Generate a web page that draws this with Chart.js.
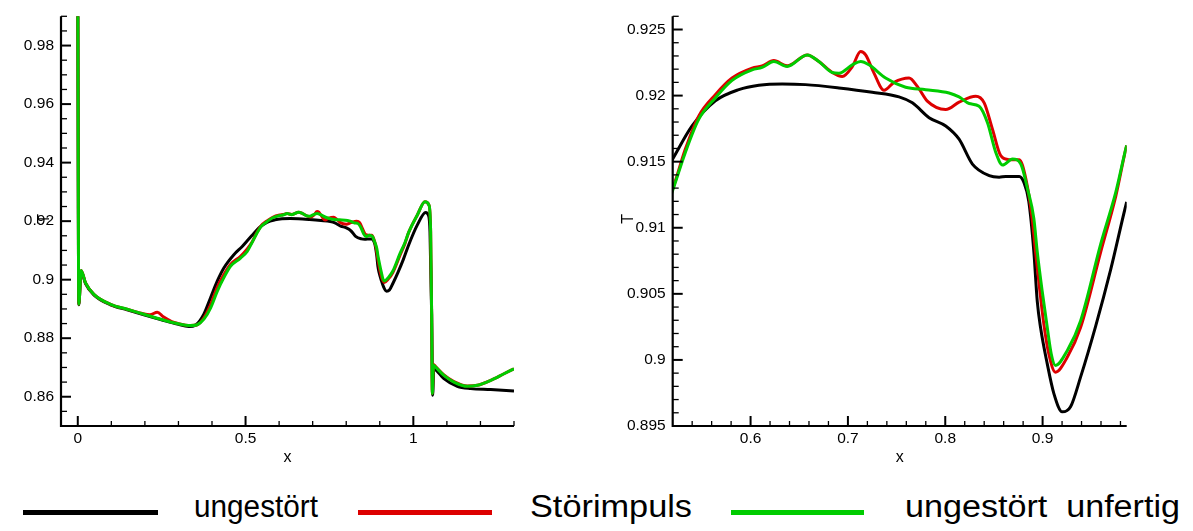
<!DOCTYPE html>
<html>
<head>
<meta charset="utf-8">
<script src="https://cdn.jsdelivr.net/npm/chart.js@4/dist/chart.umd.min.js"></script>
<style>
  html, body { margin: 0; padding: 0; background: #fff; }
  #wrap { position: relative; width: 1193px; height: 531px; overflow: hidden; font-family: "Liberation Sans", Arial, sans-serif; }
  canvas { position: absolute; top: 0; }
  #c1 { left: 0; }
  #c2 { left: 590px; }
  .lg-line { position: absolute; height: 5px; top: 510px; }
  .lg-text { position: absolute; top: 489px; font-size: 31px; line-height: 36px; color: #000; white-space: pre; transform-origin: 0 50%; }
</style>
</head>
<body>
<div id="wrap">
  <canvas id="c1" width="590" height="480"></canvas>
  <canvas id="c2" width="603" height="480"></canvas>
  <div class="lg-line" style="left:23px;width:135px;background:#000"></div>
  <div class="lg-text" style="left:194px" data-w="124">ungestört</div>
  <div class="lg-line" style="left:358px;width:134px;background:#dd0000"></div>
  <div class="lg-text" style="left:530px" data-w="162">Störimpuls</div>
  <div class="lg-line" style="left:731px;width:133px;background:#00cc00"></div>
  <div class="lg-text" style="left:905px" data-w="275">ungestört  unfertig</div>
</div>
<script>
// Temperature T along x for the three runs
const xUngestoert = [0, 0.003, 0.010, 0.023, 0.048, 0.0975, 0.147, 0.197, 0.2466, 0.2963, 0.331, 0.351, 0.3757, 0.3957, 0.4156, 0.4353, 0.4651, 0.490, 0.505,
  0.52, 0.5399, 0.5638, 0.5879, 0.6085, 0.6325, 0.6564, 0.6908, 0.725, 0.7525, 0.7662, 0.7834, 0.8005, 0.8142, 0.8279, 0.8451, 0.8554, 0.8622, 0.876, 0.8807, 0.8858, 0.891, 0.8945, 0.8979, 0.9048, 0.9116, 0.9202, 0.9287, 0.939, 0.9546, 0.97, 0.9864,
  1.012, 1.0367, 1.0447, 1.0496, 1.0546, 1.0576, 1.0610, 1.0665, 1.0912, 1.131, 1.171, 1.2305, 1.3];
const tUngestoert = [1.0, 0.8914, 0.9029, 0.8987, 0.8948, 0.8914, 0.8897, 0.8880, 0.8864, 0.8848, 0.8840, 0.88447, 0.8882, 0.89383, 0.89949, 0.9040, 0.90854, 0.91136, 0.9133,
  0.9152, 0.9177, 0.9196, 0.92045, 0.92078, 0.92088, 0.92083, 0.92058, 0.92025, 0.9199, 0.91945, 0.91833, 0.9177, 0.9167, 0.91482, 0.91395, 0.91383, 0.91388, 0.91388, 0.91345, 0.9120, 0.9082, 0.90445, 0.90245, 0.8997, 0.89745, 0.89607, 0.89645, 0.8987, 0.90258, 0.90685, 0.91195,
  0.91871, 0.92298, 0.9221, 0.91644, 0.8882, 0.86051, 0.8697, 0.8693, 0.86617, 0.86356, 0.86277, 0.86244, 0.86197];

const xStoerimpuls = [0, 0.003, 0.010, 0.023, 0.048, 0.0975, 0.147, 0.19, 0.215, 0.237, 0.255, 0.28, 0.2963, 0.336, 0.356, 0.376, 0.396, 0.416, 0.435, 0.455, 0.485, 0.505,
  0.52, 0.533, 0.5467, 0.5638, 0.581, 0.6016, 0.6119, 0.6239, 0.6376, 0.6582, 0.6702, 0.6839, 0.6942, 0.7045, 0.7131, 0.7182, 0.7268, 0.7371, 0.7474, 0.7628, 0.7713, 0.7816, 0.8005, 0.8142, 0.8313, 0.84, 0.8485, 0.857, 0.8657, 0.876, 0.8828, 0.8893, 0.8927, 0.8972, 0.9013, 0.9064, 0.9133, 0.9253, 0.939, 0.9598, 0.9752, 0.9864,
  1.012, 1.0346, 1.0465, 1.0516, 1.0546, 1.0566, 1.060, 1.0665, 1.0912, 1.121, 1.161, 1.1908, 1.2305, 1.2701, 1.3];
const tStoerimpuls = [1.0, 0.8916, 0.9031, 0.8989, 0.8950, 0.8916, 0.8899, 0.8885, 0.8880, 0.8889, 0.8873, 0.8857, 0.8851, 0.8843, 0.8846, 0.8870, 0.8915, 0.8975, 0.9017, 0.9052, 0.9080, 0.9105,
  0.91295, 0.91595, 0.91845, 0.92007, 0.92133, 0.92208, 0.92225, 0.92265, 0.92225, 0.92308, 0.92258, 0.92175, 0.92145, 0.9222, 0.92333, 0.92308, 0.9217, 0.9204, 0.921, 0.92133, 0.9207, 0.91958, 0.91895, 0.9195, 0.91995, 0.91945, 0.91745, 0.91545, 0.91515, 0.91515, 0.9137, 0.9107, 0.9082, 0.9052, 0.9027, 0.90045, 0.89907, 0.9002, 0.90245, 0.9082, 0.9124, 0.91623,
  0.9221, 0.92661, 0.9255, 0.91644, 0.8882, 0.8611, 0.8710, 0.8703, 0.86745, 0.86515, 0.86365, 0.8639, 0.86559, 0.86786, 0.86956];

const xUnfertig = [0, 0.003, 0.010, 0.023, 0.048, 0.0975, 0.147, 0.197, 0.2466, 0.2963, 0.336, 0.356, 0.376, 0.396, 0.416, 0.435, 0.455, 0.485, 0.505,
  0.52, 0.533, 0.5467, 0.5638, 0.581, 0.6016, 0.6119, 0.6239, 0.6376, 0.6582, 0.6702, 0.6839, 0.6908, 0.7045, 0.7131, 0.7216, 0.7387, 0.7593, 0.7799, 0.8039, 0.8142, 0.8245, 0.8348, 0.8434, 0.8519, 0.8588, 0.8691, 0.8776, 0.8845, 0.891, 0.8945, 0.8996, 0.9048, 0.9089, 0.9133, 0.9253, 0.939, 0.9598, 0.9752, 0.9864,
  1.012, 1.0346, 1.0465, 1.0516, 1.0546, 1.0566, 1.060, 1.0665, 1.0912, 1.121, 1.161, 1.1908, 1.2305, 1.2701, 1.3];
const tUnfertig = [1.0, 0.8916, 0.9031, 0.8989, 0.8950, 0.8916, 0.8899, 0.8882, 0.8865, 0.8850, 0.8843, 0.8846, 0.8865, 0.8904, 0.8961, 0.9006, 0.9046, 0.9074, 0.9097,
  0.91283, 0.9157, 0.9182, 0.91982, 0.92115, 0.92195, 0.92213, 0.92258, 0.9222, 0.92308, 0.92258, 0.92175, 0.9217, 0.92233, 0.92258, 0.92233, 0.92133, 0.92063, 0.92045, 0.9202, 0.9199, 0.9194, 0.9192, 0.91795, 0.9157, 0.91475, 0.9152, 0.91482, 0.91295, 0.9107, 0.9082, 0.9052, 0.90245, 0.90045, 0.89958, 0.9007, 0.90295, 0.9088, 0.9127, 0.91623,
  0.9221, 0.92661, 0.9255, 0.91644, 0.8882, 0.8611, 0.8708, 0.8701, 0.86729, 0.86502, 0.86356, 0.8639, 0.86559, 0.86786, 0.86956];

// Axis ticks: full view (left)
const leftXMajor = [0, 0.5, 1];
const leftXLabels = ['0', '0.5', '1'];
const leftXMinor = [0.1, 0.2, 0.3, 0.4, 0.6, 0.7, 0.8, 0.9, 1.1, 1.2, 1.3];
const leftYMajor = [0.86, 0.88, 0.90, 0.92, 0.94, 0.96, 0.98];
const leftYLabels = ['0.86', '0.88', '0.9', '0.92', '0.94', '0.96', '0.98'];
const leftYMinor = [0.855, 0.865, 0.87, 0.875, 0.885, 0.89, 0.895, 0.905, 0.91, 0.915, 0.925, 0.93, 0.935, 0.945, 0.95, 0.955, 0.965, 0.97, 0.975, 0.985, 0.99];

// Axis ticks: detail view (right)
const rightXMajor = [0.6, 0.7, 0.8, 0.9];
const rightXLabels = ['0.6', '0.7', '0.8', '0.9'];
const rightXMinor = [0.54, 0.56, 0.58, 0.62, 0.64, 0.66, 0.68, 0.72, 0.74, 0.76, 0.78, 0.82, 0.84, 0.86, 0.88, 0.92, 0.94, 0.96, 0.98];
const rightYMajor = [0.895, 0.900, 0.905, 0.910, 0.915, 0.920, 0.925];
const rightYLabels = ['0.895', '0.9', '0.905', '0.91', '0.915', '0.92', '0.925'];
const rightYMinor = [0.896, 0.897, 0.898, 0.899, 0.901, 0.902, 0.903, 0.904, 0.906, 0.907, 0.908, 0.909, 0.911, 0.912, 0.913, 0.914, 0.916, 0.917, 0.918, 0.919, 0.921, 0.922, 0.923, 0.924, 0.926];

const seriesNames = ['ungestört', 'Störimpuls', 'ungestört  unfertig'];
const seriesColors = ['#000000', '#dd0000', '#00cc00'];

Chart.defaults.font.family = '"Liberation Sans", Arial, sans-serif';
Chart.defaults.color = '#000';

const zip = (xs, ys) => xs.map((x, i) => ({ x: x, y: ys[i] }));

function makeDatasets() {
  const src = [[xUngestoert, tUngestoert], [xStoerimpuls, tStoerimpuls], [xUnfertig, tUnfertig]];
  return src.map((s, i) => ({
    label: seriesNames[i],
    data: zip(s[0], s[1]),
    borderColor: seriesColors[i],
    borderWidth: 3,
    pointRadius: 0,
    fill: false,
    cubicInterpolationMode: 'monotone',
    order: 3 - i
  }));
}

// Draws the L-shaped axes with inward tick marks
const innerTicks = {
  id: 'innerTicks',
  afterDatasetsDraw(chart, args, o) {
    const { ctx, chartArea: a, scales: { x, y } } = chart;
    ctx.save();
    ctx.strokeStyle = '#000';
    const seg = (x1, y1, x2, y2) => { ctx.beginPath(); ctx.moveTo(x1, y1); ctx.lineTo(x2, y2); ctx.stroke(); };
    ctx.lineWidth = 1.3;
    o.xMinor.forEach(v => { const p = x.getPixelForValue(v); seg(p, a.bottom, p, a.bottom - 5); });
    o.yMinor.forEach(v => { const p = y.getPixelForValue(v); seg(a.left, p, a.left + 6, p); });
    ctx.lineWidth = 2;
    o.xMajor.forEach(v => { const p = x.getPixelForValue(v); seg(p, a.bottom, p, a.bottom - 10); });
    o.yMajor.forEach(v => { const p = y.getPixelForValue(v); seg(a.left, p, a.left + 10, p); });
    ctx.lineWidth = 2.2;
    ctx.beginPath();
    ctx.moveTo(a.left, a.top);
    ctx.lineTo(a.left, a.bottom);
    ctx.lineTo(a.right, a.bottom);
    ctx.stroke();
    ctx.restore();
  }
};

function makeChart(id, cfg) {
  return new Chart(document.getElementById(id), {
    type: 'line',
    data: { datasets: makeDatasets() },
    options: {
      responsive: false,
      animation: false,
      events: [],
      layout: { padding: { top: 12, right: cfg.padRight, left: 0, bottom: 0 } },
      plugins: {
        legend: { display: false },
        tooltip: { enabled: false },
        innerTicks: { xMajor: cfg.xMajor, xMinor: cfg.xMinor, yMajor: cfg.yMajor, yMinor: cfg.yMinor }
      },
      scales: {
        x: {
          type: 'linear',
          min: cfg.xMin, max: cfg.xMax,
          grid: { display: false, drawTicks: false },
          border: { display: false },
          afterBuildTicks: s => { s.ticks = cfg.xMajor.map(v => ({ value: v })); },
          afterFit: s => { s.height = 54; },
          ticks: {
            autoSkip: false, maxRotation: 0, padding: 3,
            font: { size: 15.5 },
            callback: (v, i) => cfg.xLabels[i]
          },
          title: { display: true, text: 'x', font: { size: 16 }, padding: { top: 0, bottom: 13 } }
        },
        y: {
          type: 'linear',
          min: cfg.yMin, max: cfg.yMax,
          grid: { display: false, drawTicks: false },
          border: { display: false },
          afterBuildTicks: s => { s.ticks = cfg.yMajor.map(v => ({ value: v })); },
          afterFit: s => { s.width = cfg.yWidth; },
          ticks: {
            autoSkip: false, padding: 7,
            font: { size: 15.5 },
            callback: (v, i) => cfg.yLabels[i]
          },
          title: { display: true, text: cfg.yTitle, font: { size: 16 }, padding: { top: cfg.yTitlePad, bottom: 0 } }
        }
      }
    },
    plugins: [innerTicks]
  });
}

makeChart('c1', {
  xMin: -0.05, xMax: 1.3, yMin: 0.85, yMax: 0.99,
  xMajor: leftXMajor, xLabels: leftXLabels, xMinor: leftXMinor,
  yMajor: leftYMajor, yLabels: leftYLabels, yMinor: leftYMinor,
  yWidth: 61, padRight: 76, yTitlePad: 35, yTitle: ' T'
});

makeChart('c2', {
  xMin: 0.52, xMax: 0.9864, yMin: 0.895, yMax: 0.926,
  xMajor: rightXMajor, xLabels: rightXLabels, xMinor: rightXMinor,
  yMajor: rightYMajor, yLabels: rightYLabels, yMinor: rightYMinor,
  yWidth: 82.7, padRight: 66.3, yTitlePad: 29, yTitle: ' T'
});

// Legend captions are stretched to their set widths
document.querySelectorAll('.lg-text').forEach(el => {
  const w = el.getBoundingClientRect().width;
  el.style.transform = 'scaleX(' + (Number(el.dataset.w) / w) + ')';
});
</script>
</body>
</html>
